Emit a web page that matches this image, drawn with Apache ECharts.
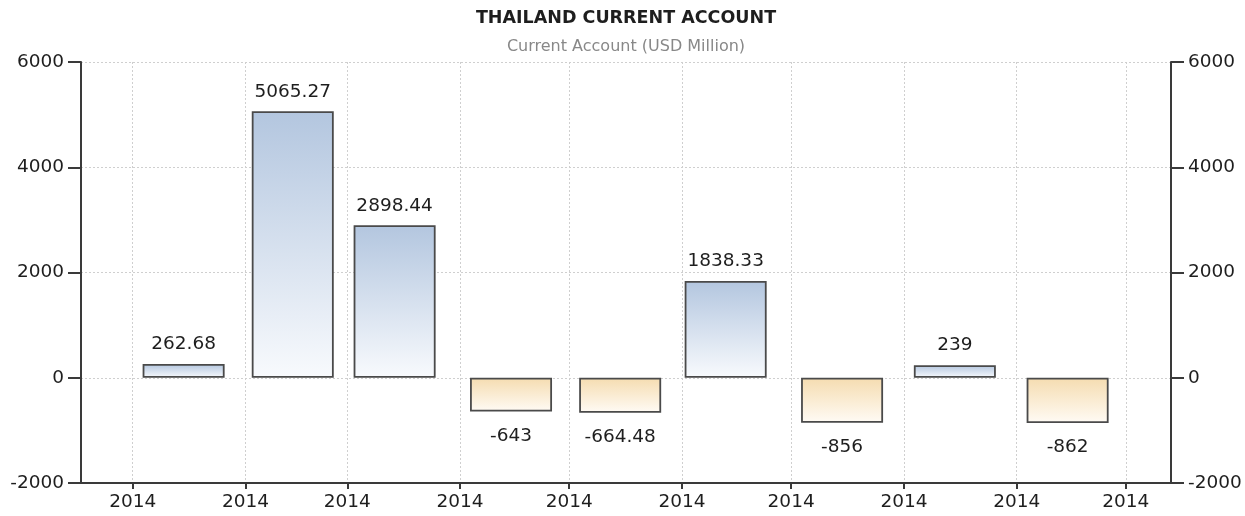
<!DOCTYPE html>
<html>
<head>
<meta charset="utf-8">
<script src="https://cdn.jsdelivr.net/npm/echarts@6/dist/echarts.min.js"></script>
<style>
html,body{margin:0;padding:0;background:#fff;}
#chart{width:1245px;height:516px;}
</style>
</head>
<body>
<div id="chart"></div>
<script>
// Data
const periods = ['2014-01-15','2014-02-14','2014-03-14','2014-04-15','2014-05-15','2014-06-13','2014-07-15','2014-08-15','2014-09-15'];
const values = [262.68, 5065.27, 2898.44, -643, -664.48, 1838.33, -856, 239, -862];
const yTicks = [-2000, 0, 2000, 4000, 6000];
const xTickLabel = '2014';
const titleText = 'THAILAND CURRENT ACCOUNT';
const subtitleText = 'Current Account (USD Million)';

const FONT = 'DejaVu Sans';
const chart = echarts.init(document.getElementById('chart'), null, {renderer: 'canvas'});

const posFill = new echarts.graphic.LinearGradient(0, 0, 0, 1, [
  {offset: 0, color: '#b3c6df'}, {offset: 1, color: '#f8fafd'}]);
const negFill = new echarts.graphic.LinearGradient(0, 0, 0, 1, [
  {offset: 0, color: '#f5dcb0'}, {offset: 1, color: '#fffbf5'}]);

const seriesData = periods.map((d, i) => {
  const v = values[i];
  const pos = v >= 0;
  return {
    value: [d, v],
    itemStyle: {color: pos ? posFill : negFill},
    label: {position: pos ? 'top' : 'bottom', distance: pos ? 10 : 15}
  };
});

const yMin = yTicks[0], yMax = yTicks[yTicks.length - 1], yStep = yTicks[1] - yTicks[0];
const axisColor = '#3a3a3a';

// Grid geometry
const GRID_LEFT = 81, GRID_RIGHT = 74, CHART_W = 1245;
const plotW = CHART_W - GRID_LEFT - GRID_RIGHT;
const BAR_W = 82;
// Visible time window of the x axis
const viewMin = new Date(2013, 11, 17, 19).getTime();
const viewMax = new Date(2014, 9, 13, 10).getTime();
// ECharts widens a time axis holding bars by the bar overflow; pre-shrink so the final window matches
const shrink = 1 - BAR_W / plotW;
const mid = (viewMin + viewMax) / 2, half = (viewMax - viewMin) * shrink / 2;

const yAxisCommon = {
  type: 'value', min: yMin, max: yMax, interval: yStep,
  axisLine: {show: true, onZero: false, lineStyle: {color: axisColor, width: 2}},
  axisTick: {show: true, length: 13, lineStyle: {color: axisColor, width: 2}},
  axisLabel: {color: '#1e1e1e', fontFamily: FONT, fontSize: 18.5, margin: 17,
    formatter: v => String(v)}
};

chart.setOption({
  animation: false,
  backgroundColor: '#fff',
  title: {
    text: titleText, subtext: subtitleText,
    left: 621, top: 4, textAlign: 'center', itemGap: 12,
    textStyle: {fontFamily: FONT, fontSize: 17.5, fontWeight: 'bold', color: '#1e1e1e'},
    subtextStyle: {fontFamily: FONT, fontSize: 16, color: '#888'}
  },
  grid: {left: GRID_LEFT, right: GRID_RIGHT, top: 62, bottom: 33, containLabel: false},
  xAxis: {
    type: 'time',
    min: mid - half,
    max: mid + half,
    minInterval: 28 * 86400000,
    maxInterval: 31 * 86400000,
    splitNumber: 10,
    axisLine: {show: true, onZero: false, lineStyle: {color: axisColor, width: 2}},
    axisTick: {show: true, length: 6, lineStyle: {color: axisColor, width: 2}},
    axisLabel: {
      color: '#1e1e1e', fontFamily: FONT, fontSize: 18.5, margin: 10,
      showMinLabel: false, showMaxLabel: false, hideOverlap: false,
      formatter: function (val) {
        const d = new Date(val);
        return (d.getDate() === 1 && d.getHours() === 0) ? xTickLabel : '';
      }
    },
    splitLine: {show: true, lineStyle: {color: '#cfcfcf', width: 1, type: [2, 2]}}
  },
  yAxis: [
    Object.assign({}, yAxisCommon, {
      position: 'left',
      splitLine: {show: true, lineStyle: {color: '#cfcfcf', width: 1, type: [2, 2]}}
    }),
    Object.assign({}, yAxisCommon, {position: 'right', splitLine: {show: false}})
  ],
  series: [{
    type: 'bar',
    yAxisIndex: 0,
    barWidth: BAR_W,
    data: seriesData,
    itemStyle: {borderColor: '#4a4a4a', borderWidth: 1.8},
    label: {
      show: true, color: '#1e1e1e', fontFamily: FONT, fontSize: 18.5,
      formatter: p => String(p.value[1])
    }
  }]
});
</script>
</body>
</html>
